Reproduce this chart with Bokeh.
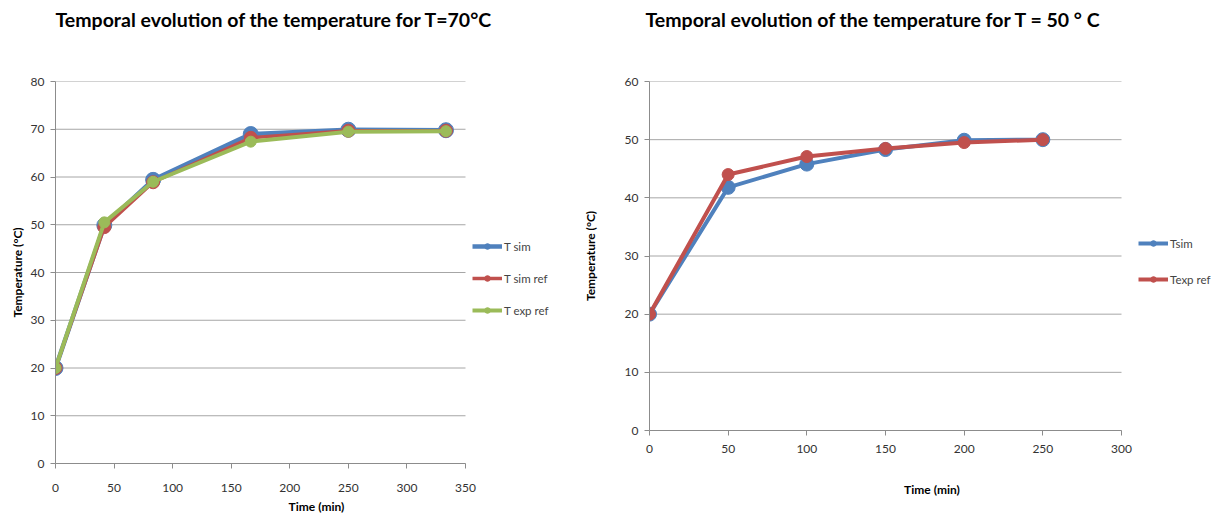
from bokeh.plotting import figure
from bokeh.layouts import row
from bokeh.models import Legend, LegendItem, Range1d, FixedTicker, Title
from bokeh.embed import file_html
from bokeh.resources import INLINE

# ---- data: T = 70 °C ----
time70 = [0, 41.67, 83.33, 166.67, 250, 333.33]
t70_sim = [20, 49.9, 59.4, 69.0, 69.9, 69.8]
t70_sim_ref = [20, 49.5, 58.9, 68.2, 69.7, 69.7]
t70_exp_ref = [20, 50.5, 59.0, 67.4, 69.5, 69.6]

# ---- data: T = 50 °C ----
time50 = [0, 50, 100, 150, 200, 250]
t50_sim = [20, 41.8, 45.8, 48.3, 49.9, 50.0]
t50_exp_ref = [20, 44.0, 47.1, 48.5, 49.5, 50.0]

x_ticks70 = [0, 50, 100, 150, 200, 250, 300, 350]
y_ticks70 = [0, 10, 20, 30, 40, 50, 60, 70, 80]
x_ticks50 = [0, 50, 100, 150, 200, 250, 300]
y_ticks50 = [0, 10, 20, 30, 40, 50, 60]

BLUE = "#4F81BD"
RED = "#C0504D"
GREEN = "#9BBB59"
FONT = "Lato"
GRID = "#a6a6a6"
AXIS = "#8c8c8c"


def make_fig(title, fw, fh, xmax_view, xt, yt, bt, title_offset, spacer,
             tick_standoff, xlab_standoff, ylab_standoff, margin_left):
    p = figure(frame_width=fw, frame_height=fh, output_backend="svg", toolbar_location=None,
               x_range=Range1d(0, xmax_view), y_range=Range1d(yt[0], yt[-1]),
               min_border_left=0, min_border_right=2,
               min_border_top=bt, min_border_bottom=0,
               margin=(0, 0, 0, margin_left))
    p.title.text = title
    p.title.text_font = FONT
    p.title.text_font_size = "19.5px"
    p.title.text_font_style = "bold"
    p.title.text_color = "#000000"
    p.title.standoff = 10
    p.title.offset = title_offset
    # empty spacer title between the heading and the plot area
    p.add_layout(Title(text=" ", text_font_size="1px", standoff=spacer), "above")
    p.outline_line_color = None
    p.background_fill_color = "white"
    p.border_fill_color = "white"
    p.xgrid.visible = False
    p.ygrid.visible = False
    # horizontal gridlines limited to the axis extent
    p.segment(x0=xt[0], x1=xt[-1], y0=yt, y1=yt, line_color=GRID, line_width=1)
    p.xaxis.ticker = FixedTicker(ticks=xt)
    p.yaxis.ticker = FixedTicker(ticks=yt)
    p.xaxis.bounds = (xt[0], xt[-1])
    for ax in (p.xaxis[0], p.yaxis[0]):
        ax.axis_line_color = AXIS
        ax.major_tick_line_color = AXIS
        ax.minor_tick_line_color = None
        ax.major_tick_in = 0
        ax.major_tick_out = 5
        ax.major_label_text_font = FONT
        ax.major_label_text_font_size = "12px"
        ax.major_label_text_color = "#333333"
        ax.axis_label_text_font = FONT
        ax.axis_label_text_color = "#000000"
        ax.axis_label_text_font_style = "bold"
    p.xaxis.major_label_standoff = tick_standoff
    p.xaxis.axis_label = "Time (min)"
    p.xaxis.axis_label_text_font_size = "12px"
    p.xaxis.axis_label_standoff = xlab_standoff
    p.yaxis.axis_label = "Temperature (°C)"
    p.yaxis.axis_label_text_font_size = "12px"
    p.yaxis.axis_label_standoff = ylab_standoff
    p.yaxis.major_label_standoff = 6
    return p


# ---------- left chart ----------
p1 = make_fig("Temporal evolution of the temperature for T=70°C", 522, 382,
              350 * 522 / 410, x_ticks70, y_ticks70,
              72, 0, 43, 15, 4, 3, 6)
items = []
for ys, col, lw, ms, lab in [(t70_sim, BLUE, 4.5, 15, "T sim"),
                             (t70_sim_ref, RED, 3.5, 13, "T sim ref"),
                             (t70_exp_ref, GREEN, 4, 11, "T exp ref")]:
    r1 = p1.line(time70, ys, line_color=col, line_width=lw)
    r2 = p1.scatter(time70, ys, marker="circle", size=ms, fill_color=col, line_color=col)
    items.append(LegendItem(label=lab, renderers=[r1, r2]))
leg1 = Legend(items=items, location=(417, 146), border_line_color=None,
              background_fill_alpha=0, label_text_font=FONT,
              label_text_font_size="11.5px", glyph_width=30, glyph_height=14,
              spacing=18, label_standoff=2, padding=2, margin=0)
p1.add_layout(leg1)

# ---------- right chart ----------
p2 = make_fig("Temporal evolution of the temperature for T = 50 ° C", 565, 349,
              300 * 565 / 472, x_ticks50, y_ticks50,
              72, -4, 43, 9, 26, 24, 0)
items2 = []
for ys, col, lw, ms, lab in [(t50_sim, BLUE, 4, 14, "Tsim"),
                             (t50_exp_ref, RED, 4, 12, "Texp ref")]:
    r1 = p2.line(time50, ys, line_color=col, line_width=lw)
    r2 = p2.scatter(time50, ys, marker="circle", size=ms, fill_color=col, line_color=col)
    items2.append(LegendItem(label=lab, renderers=[r1, r2]))
leg2 = Legend(items=items2, location=(489, 144), border_line_color=None,
              background_fill_alpha=0, label_text_font=FONT,
              label_text_font_size="11.5px", glyph_width=30, glyph_height=14,
              spacing=22, label_standoff=2, padding=2, margin=0)
p2.add_layout(leg2)

layout = row(p1, p2)
open("out.html", "w").write(file_html(layout, INLINE))
